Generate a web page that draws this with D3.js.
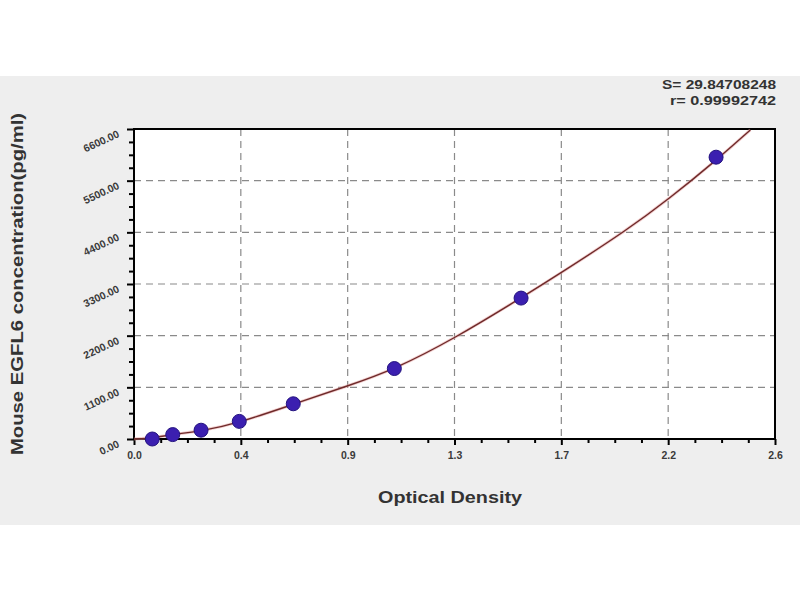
<!DOCTYPE html>
<html>
<head>
<meta charset="utf-8">
<script src="https://cdn.jsdelivr.net/npm/d3@7"></script>
<style>
  html, body { margin: 0; padding: 0; background: #ffffff; }
  svg { display: block; }
  text { font-family: Arial, "Liberation Sans", sans-serif; }
</style>
</head>
<body>
<svg id="chart" width="800" height="600"></svg>
<script>
// Standard points (Optical Density -> concentration)
const odValues = [0.074, 0.157, 0.272, 0.427, 0.646, 1.056, 1.570, 2.361];
const concValues = [0, 93.75, 187.5, 375, 750, 1500, 3000, 6000];

// Fitted curve
const curveOD = [0, 0.074, 0.157, 0.272, 0.427, 0.646, 0.867, 1.056, 1.3, 1.566, 1.733, 2.0, 2.167, 2.361, 2.5];
const curveConc = [0, 20, 100, 165, 345, 740, 1130, 1480, 2140, 2990, 3540, 4450, 5100, 5930, 6580];

// Axes ticks
const xTickValues = [0, 0.4333, 0.8667, 1.3, 1.7333, 2.1667, 2.6];
const xTickLabels = ["0.0", "0.4", "0.9", "1.3", "1.7", "2.2", "2.6"];
const yTickValues = [0, 1100, 2200, 3300, 4400, 5500, 6600];
const yTickLabels = ["0.00", "1100.00", "2200.00", "3300.00", "4400.00", "5500.00", "6600.00"];

const statLines = ["S= 29.84708248", "r= 0.99992742"];
const xTitle = "Optical Density";
const yTitle = "Mouse EGFL6 concentration(pg/ml)";

const svg = d3.select("#chart");
const L = 134, R = 775, T = 129, B = 439;

// gray photo band
svg.append("rect").attr("x", 0).attr("y", 76).attr("width", 800).attr("height", 449).attr("fill", "#eeeeee");

const x = d3.scaleLinear().domain([0, 2.6]).range([L, R]);
const y = d3.scaleLinear().domain([0, 6600]).range([B, T]);

// plot background
svg.append("rect").attr("x", L).attr("y", T).attr("width", R - L).attr("height", B - T).attr("fill", "#ffffff");

// grid lines
const grid = svg.append("g").attr("stroke", "#8a8a8a").attr("stroke-width", 1.2).attr("stroke-dasharray", "7,5");
grid.selectAll("line.v").data(xTickValues.slice(1, -1)).join("line")
  .attr("x1", d => x(d)).attr("x2", d => x(d)).attr("y1", T).attr("y2", B);
grid.selectAll("line.h").data(yTickValues.slice(1, -1)).join("line")
  .attr("x1", L).attr("x2", R).attr("y1", d => y(d)).attr("y2", d => y(d));

// minor ticks
const xMinor = [];
for (let i = 0; i < xTickValues.length - 1; i++) for (let k = 1; k < 4; k++) xMinor.push(xTickValues[i] + (xTickValues[i + 1] - xTickValues[i]) * k / 4);
const yMinor = [];
for (let i = 0; i < yTickValues.length - 1; i++) for (let k = 1; k < 4; k++) yMinor.push(yTickValues[i] + 1100 * k / 4);

const xAxisMinor = svg.append("g").attr("transform", `translate(0,${B})`)
  .call(d3.axisBottom(x).tickValues(xMinor).tickSize(4).tickSizeOuter(0).tickFormat(""));
const yAxisMinor = svg.append("g").attr("transform", `translate(${L},0)`)
  .call(d3.axisLeft(y).tickValues(yMinor).tickSize(5).tickSizeOuter(0).tickFormat(""));
[xAxisMinor, yAxisMinor].forEach(g => {
  g.select(".domain").remove();
  g.selectAll("line").attr("stroke", "#000").attr("stroke-width", 2);
});

// major axes
const xAxis = svg.append("g").attr("transform", `translate(0,${B})`)
  .call(d3.axisBottom(x).tickValues(xTickValues).tickSize(6).tickSizeOuter(0)
    .tickFormat((d, i) => xTickLabels[i]));
xAxis.select(".domain").remove();
xAxis.selectAll("line").attr("stroke", "#000").attr("stroke-width", 2);
xAxis.selectAll("text").attr("font-size", 10.5).attr("font-weight", "bold").attr("fill", "#3a3a3a")
  .attr("dy", "1em").style("font-family", "Arial, 'Liberation Sans', sans-serif");

const yAxis = svg.append("g").attr("transform", `translate(${L},0)`)
  .call(d3.axisLeft(y).tickValues(yTickValues).tickSize(7).tickSizeOuter(0)
    .tickFormat((d, i) => yTickLabels[i]));
yAxis.select(".domain").remove();
yAxis.selectAll("line").attr("stroke", "#000").attr("stroke-width", 2);
yAxis.selectAll("text")
  .attr("font-size", 10.5).attr("font-weight", "bold").attr("fill", "#3a3a3a")
  .attr("text-anchor", "end").attr("x", 0).attr("dy", 0)
  .attr("transform", "translate(-14,7) rotate(-25)")
  .style("font-family", "Arial, 'Liberation Sans', sans-serif");

// frame
svg.append("rect").attr("x", L).attr("y", T).attr("width", R - L).attr("height", B - T)
  .attr("fill", "none").attr("stroke", "#000").attr("stroke-width", 2);

// fitted curve
const curveData = curveOD.map((d, i) => [d, curveConc[i]]);
const line = d3.line().x(d => x(d[0])).y(d => y(d[1])).curve(d3.curveBasis);
svg.append("path").datum(curveData).attr("d", line)
  .attr("fill", "none").attr("stroke", "#e8a0a0").attr("stroke-width", 3).attr("opacity", 0.5);
svg.append("path").datum(curveData).attr("d", line)
  .attr("fill", "none").attr("stroke", "#6e2a2a").attr("stroke-width", 1.4);

// points
const pts = odValues.map((d, i) => ({ od: d, c: concValues[i] }));
svg.append("g").selectAll("circle").data(pts).join("circle")
  .attr("cx", d => x(d.od)).attr("cy", d => y(d.c)).attr("r", 7)
  .attr("fill", "#3b1fb0").attr("stroke", "#24137f").attr("stroke-width", 1);

// stats text
svg.append("g").selectAll("text").data(statLines).join("text")
  .attr("x", 776).attr("y", (d, i) => 89 + i * 16)
  .attr("text-anchor", "end").attr("font-size", 12).attr("font-weight", "bold").attr("fill", "#333")
  .attr("textLength", (d, i) => i === 0 ? 114 : 106).attr("lengthAdjust", "spacingAndGlyphs")
  .text(d => d);

// axis titles
svg.append("text").attr("x", 450).attr("y", 503).attr("text-anchor", "middle")
  .attr("font-size", 16).attr("font-weight", "bold").attr("fill", "#333")
  .attr("textLength", 144).attr("lengthAdjust", "spacingAndGlyphs")
  .text(xTitle);
svg.append("text").attr("transform", "translate(23,284) rotate(-90)").attr("text-anchor", "middle")
  .attr("font-size", 16).attr("font-weight", "bold").attr("fill", "#333")
  .attr("textLength", 342).attr("lengthAdjust", "spacingAndGlyphs")
  .text(yTitle);
</script>
</body>
</html>
